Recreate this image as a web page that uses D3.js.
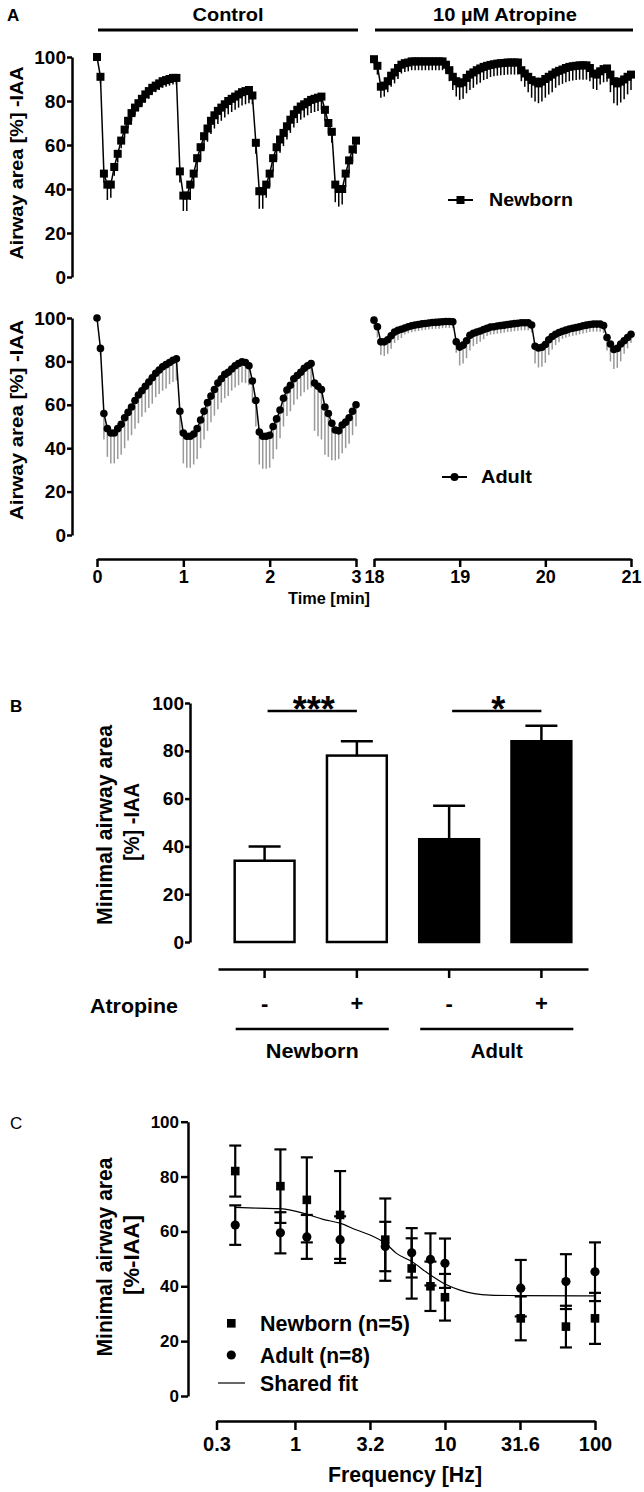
<!DOCTYPE html>
<html><head><meta charset="utf-8">
<script src="https://cdn.jsdelivr.net/npm/d3@7"></script>
<style>
html,body{margin:0;padding:0;background:#fff;}
svg{display:block;}
</style></head><body>
<svg id="chart" width="644" height="1492"></svg>
<script>
// ---------------- DATA ----------------
// Panel A: time points (min)
const ctrlTimes = [0,0.04,0.08,0.12,0.16,0.2,0.24,0.28,0.32,0.36,0.4,0.44,0.48,0.52,0.56,0.6,0.64,0.68,0.72,0.76,0.8,0.84,0.88,0.92,0.96,1,1.04,1.08,1.12,1.16,1.2,1.24,1.28,1.32,1.36,1.4,1.44,1.48,1.52,1.56,1.6,1.64,1.68,1.72,1.76,1.8,1.84,1.88,1.92,1.96,2,2.04,2.08,2.12,2.16,2.2,2.24,2.28,2.32,2.36,2.4,2.44,2.48,2.52,2.56,2.6,2.64,2.68,2.72,2.76,2.8,2.84,2.88,2.92,2.96,3];
const atrTimes = [18,18.04,18.08,18.12,18.16,18.2,18.24,18.28,18.32,18.36,18.4,18.44,18.48,18.52,18.56,18.6,18.64,18.68,18.72,18.76,18.8,18.84,18.88,18.92,18.96,19,19.04,19.08,19.12,19.16,19.2,19.24,19.28,19.32,19.36,19.4,19.44,19.48,19.52,19.56,19.6,19.64,19.68,19.72,19.76,19.8,19.84,19.88,19.92,19.96,20,20.04,20.08,20.12,20.16,20.2,20.24,20.28,20.32,20.36,20.4,20.44,20.48,20.52,20.56,20.6,20.64,20.68,20.72,20.76,20.8,20.84,20.88,20.92,20.96,21];
// Newborn control (mean, lower SEM)
const nbCtrl = [100,91,47,42,42,50,56,62,67,71, 74.5,77,79,81,83,84.5,86,87,88,89, 89.5,90,90.5,90.5, 48,37,37,42,47,54,59,64,67.5,71, 73.5,75.5,77,78.5,80,81,82,83,84,84.5, 85,82.5, 61,39,39,42,47,54,59,62.5,65.5,68.5, 71.5,74,76,77.5,78.5,79.5,80.5,81,81.5,82, 76,70,66,42,40,40,47,53,58,62];
const nbCtrlErr = [0,3,4,7,6,4,4,3.5,3.5,3.5, 3.5,3.5,3.5,3.5,3.5,3.5,3,3,3,3, 3,3,3,3, 5,7,7,7,6,6,6,6,6,6, 6,6,6,6,6,6,6,6,6,6, 6,4, 5,8,8,6,6,6,6,6,6,6, 6,6,6,6,6,6,6,6,6,6, 5,5,5,8,8,7,6,6,6,6];
// Adult control
const adCtrl = [100,86,56,49,47,47,49,51,54,56.5, 59,62,64.5,66.5,68.5,70.5,72.5,74.5,76,77.5, 78.5,79.5,80.5,81.2, 57,47,45.5,45.5,46.5,49, 53,57,61,64,67,70,72,74,75,76.5, 78,79,79.8,79.5,78,71, 62,47.5,45.5,45.5,46,50,53.5,57.6,63,66.8, 69,72,73.5,75,76.8,78,79,70,68.5,67, 59,56,51.5,48.4,48,50.7,52,54,57,60];
const adCtrlErr = [0,3,12,13,14,14,14,14,14,13, 13,13,13,12,12,12,12,11,11,11, 11,10,10,10, 10,14,14.5,14.5,14,14, 13,13,13,12,12,12,11,11,11,10, 10,10,9.5,9.5,9,10, 12,15,15,15,15,15,14,13,13,12, 12,12,11,11,11,11,11,22,23,23, 22,20,17,14,13,13,12,12,11,10];
// Newborn atropine
const nbAtr = [99,96,86.5,87,89,91.5,93,95,96.5,97.2, 97.5,98,98,98,98,98,98,98,98,98, 98,96.5,94,91,89,88,88.5,90.5,92,93, 94,94.8,95.5,96,96.4,96.7,97,97.2,97.3,97.5, 97.5,97.5,97.5,94,92.5,91,89.5,88.8,88,88.8, 90,91,92,93,93.7,94.3,95,95.5,95.8,96, 96.2,96.2,96.2,95,92.5,92,93.5,94.5,94.8,92, 89,88,88.8,89.8,91,92];
const nbAtrErr = [2,4,5,5,5,5,5,5,4,4, 4,4,4,4,4,4,4,4,4,4, 4,4,5,6,7,7.5,7.5,7,7,7, 6.5,6.5,6,6,5.5,5.5,5.5,5.5,5.5,5.5, 5.5,5.5,5.5,5,6,7,8,9,9,9, 8.5,8,8,7,6.5,6.5,6.5,6.5,6.5,6.5, 6.5,6.5,6.5,6,7,7,6,6,6,8, 10,10,9.5,9,8,7];
// Adult atropine
const adAtr = [99,96,89,89,90,91.8,93.5,94.3,94.8,95.4, 96,96.4,96.8,97,97.3,97.5,97.7,97.9,98,98.1, 98.3,98.4,98.4,98.3,89,86.6,87.5,89.5,92,93, 93.5,94,94.7,95.2,95.8,96,96.3,96.5,96.7,97, 97.2,97.4,97.6,97.8,97.8,97.8,96.8,87,86.2,86.5, 87.8,90,91.5,92.5,93.3,93.9,94.4,94.9,95.3,95.6, 96,96.4,96.7,97,97.2,97.2,97.2,96.5,91,88, 85.5,86,88,89.5,91,92.5];
const adAtrErr = [3,5,6,6.5,6.5,6,5,4.5,4,3, 3,3,3,3,3,3,3,3,3,3, 3,3,3,3,5,8.5,8.5,8,7,6, 5.5,5,4.5,3.5,3.5,3.5,3.5,3.5,3.5,3.5, 3.5,3.5,3.5,3.5,3.5,3.5,3.5,8,9,9, 8.5,7,6,5,4.5,3.5,3.5,3.5,3.5,3.5, 3.5,3.5,3.5,3.5,3.5,3.5,3.5,3.5,6,8, 9,9,8,6,5,4];
const yTicksA = [0,20,40,60,80,100];
const ctrlTicks = [0,1,2,3];
const atrTicks = [18,19,20,21];

// Panel B
const barGroups = ["Newborn","Newborn","Adult","Adult"];
const atropineLabels = ["-","+","-","+"];
const barMeans = [34,78,43,84];
const barSEM = [6,6,14,6.5];
const barFills = ["#fff","#fff","#000","#000"];
const sigLabels = ["***","*"];
const yTicksB = [0,20,40,60,80,100];

// Panel C
const freqHz = [0.4,0.8,1.2,2,4,6,8,10,32,64,100];
const nbMean = [82,76.5,71.5,66,57,46.5,40,36,28.3,25.3,28.3];
const nbErr = [9.3,13.4,15.5,16,15,11,9,8.5,8,7.6,9.3];
const adMean = [62.3,59.5,58,57,54.5,52.2,49.8,48.4,39.3,41.7,45.3];
const adErr = [7.2,7.5,8,8.5,9,9,9.5,9,10.3,10,10.7];
const fitHz = [0.4,0.56,0.8,1.2,1.54,2,2.58,3.17,4,4.75,6,8,10,12.6,19.9,31.6,100];
const fitY = [68.8,68.5,68.3,66.3,64.4,63,60.5,58.7,55.7,52,49,44.1,40.8,38.6,36.8,36.6,36.5];
const freqTickValues = [0.3,1,3.162,10,31.62,100];
const freqTickLabels = ["0.3","1","3.2","10","31.6","100"];
const yTicksC = [0,20,40,60,80,100];

// ---------------- DRAWING ----------------
const FONT = '"Liberation Sans", Arial, Helvetica, sans-serif';
const NARROW = '"Liberation Sans Narrow", "Liberation Sans", Arial, sans-serif';
const svg = d3.select("#chart");
svg.append("rect").attr("width",644).attr("height",1492).attr("fill","#fff");

function label(x, y, str, o = {}) {
  const t = svg.append("text").attr("x", x).attr("y", y).text(str)
    .attr("font-family", o.family || FONT)
    .attr("font-size", o.size || 18)
    .attr("font-weight", o.weight || "bold")
    .attr("text-anchor", o.anchor || "start")
    .attr("dominant-baseline", o.baseline || "central")
    .attr("fill", "#000");
  if (o.len) t.attr("textLength", o.len).attr("lengthAdjust", "spacingAndGlyphs");
  if (o.rotate) t.attr("transform", `rotate(-90,${x},${y})`);
  return t;
}
function styleAxis(g, w, size, family) {
  g.attr("font-size", null).attr("font-family", null);
  g.select(".domain").attr("stroke", "#000").attr("stroke-width", w);
  g.selectAll(".tick line").attr("stroke", "#000").attr("stroke-width", w);
  g.selectAll(".tick text").attr("font-size", size).attr("font-weight", "bold")
    .attr("font-family", family || FONT).attr("fill", "#000");
}

// ===== Panel A =====
const xCtrl = d3.scaleLinear().domain([0,3]).range([97,356]);
const xAtr = d3.scaleLinear().domain([18,21]).range([374,631]);
const yTop = d3.scaleLinear().domain([0,100]).range([277,57]);
const yBot = d3.scaleLinear().domain([0,100]).range([535,318]);

label(7, 15, "A", {size: 17});
label(228, 15, "Control", {size: 18, anchor: "middle", len: 71});
label(505, 15, "10 µM Atropine", {size: 18, anchor: "middle", len: 144});
svg.append("line").attr("x1", xCtrl(0)+1).attr("x2", xCtrl(3)+2).attr("y1", 30).attr("y2", 30).attr("stroke", "#000").attr("stroke-width", 3);
svg.append("line").attr("x1", xAtr(18)+1).attr("x2", xAtr(21)+2).attr("y1", 30).attr("y2", 30).attr("stroke", "#000").attr("stroke-width", 3);

[yTop, yBot].forEach(ys => {
  const g = svg.append("g").attr("transform", "translate(72,0)")
    .call(d3.axisLeft(ys).tickValues(yTicksA).tickSize(5).tickSizeOuter(0).tickPadding(1));
  styleAxis(g, 2.5, 19);
});
label(23, 163, "Airway area [%] -IAA", {size: 18, anchor: "middle", baseline: "auto", rotate: true, len: 193});
label(23, 420, "Airway area [%] -IAA", {size: 18, anchor: "middle", baseline: "auto", rotate: true, len: 200});

// x axes (bottom)
const gx1 = svg.append("g").attr("transform", "translate(0,559)")
  .call(d3.axisBottom(xCtrl).tickValues(ctrlTicks).tickSize(8).tickSizeOuter(0).tickPadding(3).tickFormat(d3.format("d")));
styleAxis(gx1, 2.5, 18);
const gx2 = svg.append("g").attr("transform", "translate(0,559)")
  .call(d3.axisBottom(xAtr).tickValues(atrTicks).tickSize(8).tickSizeOuter(0).tickPadding(3).tickFormat(d3.format("d")));
styleAxis(gx2, 2.5, 18);
label(329, 598, "Time [min]", {size: 16, anchor: "middle", len: 82});

function drawTrace(times, vals, errs, xs, ys, shape, errColor) {
  const g = svg.append("g");
  g.selectAll(null).data(vals).join("line")
    .attr("x1", (d, i) => xs(times[i])).attr("x2", (d, i) => xs(times[i]))
    .attr("y1", d => ys(d)).attr("y2", (d, i) => ys(d - errs[i]))
    .attr("stroke", errColor).attr("stroke-width", 1.5);
  const line = d3.line().x((d, i) => xs(times[i])).y(d => ys(d));
  g.append("path").attr("d", line(vals)).attr("fill", "none").attr("stroke", "#000").attr("stroke-width", 1.5);
  if (shape === "square") {
    g.selectAll(null).data(vals).join("rect")
      .attr("x", (d, i) => xs(times[i]) - 4).attr("y", d => ys(d) - 4)
      .attr("width", 8).attr("height", 8).attr("fill", "#000");
  } else {
    g.selectAll(null).data(vals).join("circle")
      .attr("cx", (d, i) => xs(times[i])).attr("cy", d => ys(d))
      .attr("r", 3.8).attr("fill", "#000");
  }
}
drawTrace(ctrlTimes, nbCtrl, nbCtrlErr, xCtrl, yTop, "square", "#000");
drawTrace(atrTimes, nbAtr, nbAtrErr, xAtr, yTop, "square", "#000");
drawTrace(ctrlTimes, adCtrl, adCtrlErr, xCtrl, yBot, "circle", "#999");
drawTrace(atrTimes, adAtr, adAtrErr, xAtr, yBot, "circle", "#999");

// legends A
svg.append("line").attr("x1", 448).attr("x2", 473).attr("y1", 200).attr("y2", 200).attr("stroke", "#000").attr("stroke-width", 2);
svg.append("rect").attr("x", 456.5).attr("y", 196).attr("width", 8).attr("height", 8).attr("fill", "#000");
label(489, 200, "Newborn", {size: 18, len: 84});
svg.append("line").attr("x1", 442).attr("x2", 467).attr("y1", 477).attr("y2", 477).attr("stroke", "#000").attr("stroke-width", 2);
svg.append("circle").attr("cx", 454.5).attr("cy", 477).attr("r", 4).attr("fill", "#000");
label(481, 477, "Adult", {size: 18, len: 51});

// ===== Panel B =====
const barIdx = d3.range(barMeans.length);
const xB = d3.scaleBand().domain(barIdx).range([218, 588]).paddingInner(0.33).paddingOuter(0.17);
const yB = d3.scaleLinear().domain([0,100]).range([942,703]);
label(10, 706, "B", {size: 17});
const gyB = svg.append("g").attr("transform", "translate(190,0)")
  .call(d3.axisLeft(yB).tickValues(yTicksB).tickSize(5).tickSizeOuter(0).tickPadding(1));
styleAxis(gyB, 2.5, 19);
label(112, 825, "Minimal airway area", {size: 22, anchor: "middle", baseline: "auto", rotate: true, len: 200});
label(139, 822, "[%] -IAA", {size: 22, anchor: "middle", baseline: "auto", rotate: true, len: 78});

svg.append("g").selectAll("rect").data(barMeans).join("rect")
  .attr("x", (d, i) => xB(i) + 1).attr("width", xB.bandwidth() - 2)
  .attr("y", d => yB(d)).attr("height", d => yB(0) - yB(d))
  .attr("fill", (d, i) => barFills[i]).attr("stroke", "#000").attr("stroke-width", 2.5);
const capW = 32;
const gErrB = svg.append("g");
barMeans.forEach((m, i) => {
  const cx = xB(i) + xB.bandwidth() / 2;
  gErrB.append("line").attr("x1", cx).attr("x2", cx).attr("y1", yB(m)).attr("y2", yB(m + barSEM[i])).attr("stroke", "#000").attr("stroke-width", 2.5);
  gErrB.append("line").attr("x1", cx - capW / 2).attr("x2", cx + capW / 2).attr("y1", yB(m + barSEM[i])).attr("y2", yB(m + barSEM[i])).attr("stroke", "#000").attr("stroke-width", 2.5);
});
// significance
[[0,1],[2,3]].forEach((pair, k) => {
  const a = xB(pair[0]) + xB.bandwidth() / 2, b = xB(pair[1]) + xB.bandwidth() / 2;
  svg.append("line").attr("x1", a + 3).attr("x2", b).attr("y1", 711).attr("y2", 711).attr("stroke", "#000").attr("stroke-width", 2.5);
  label((a + b) / 2 + 3, 722, sigLabels[k], {size: 36, anchor: "middle", baseline: "auto"});
});
// category axis below
const gxB = svg.append("g").attr("transform", "translate(0,969)")
  .call(d3.axisBottom(xB).tickSize(9).tickSizeOuter(0).tickPadding(17).tickFormat(i => atropineLabels[i]));
styleAxis(gxB, 2.5, 22);
label(90, 1005, "Atropine", {size: 21, len: 88});
const groupNames = Array.from(new Set(barGroups));
groupNames.forEach(gname => {
  const idx = barIdx.filter(i => barGroups[i] === gname);
  const x0 = xB(idx[0]) + 2, x1 = xB(idx[idx.length - 1]) + xB.bandwidth() + 1;
  svg.append("line").attr("x1", x0).attr("x2", x1).attr("y1", 1029).attr("y2", 1029).attr("stroke", "#000").attr("stroke-width", 2.5);
  label((x0 + x1) / 2, 1050, gname, {size: 21, anchor: "middle", len: gname === "Newborn" ? 93 : 52});
});

// ===== Panel C =====
const xC = d3.scaleLog().domain([0.3,100]).range([216.5,595]);
const yC = d3.scaleLinear().domain([0,100]).range([1396,1121.7]);
label(10, 1123, "C", {size: 17, weight: "normal"});
const gyC = svg.append("g").attr("transform", "translate(188,0)")
  .call(d3.axisLeft(yC).tickValues(yTicksC).tickSize(7).tickSizeOuter(0).tickPadding(2));
styleAxis(gyC, 2.5, 17, NARROW);
const gxC = svg.append("g").attr("transform", "translate(0,1421)")
  .call(d3.axisBottom(xC).tickValues(freqTickValues).tickSize(9).tickSizeOuter(0).tickPadding(7)
    .tickFormat((d, i) => freqTickLabels[i]));
styleAxis(gxC, 2.5, 20, NARROW);
label(405, 1474, "Frequency [Hz]", {size: 22, anchor: "middle", family: NARROW, len: 154});
label(112, 1257, "Minimal airway area", {size: 22, anchor: "middle", baseline: "auto", rotate: true, family: NARROW, len: 199});
label(139, 1255, "[%-IAA]", {size: 22, anchor: "middle", baseline: "auto", rotate: true, family: NARROW, len: 80});

function errBars(means, errs) {
  const g = svg.append("g");
  means.forEach((m, i) => {
    const cx = xC(freqHz[i]);
    const yt = yC(m + errs[i]), yb = yC(m - errs[i]);
    g.append("line").attr("x1", cx).attr("x2", cx).attr("y1", yt).attr("y2", yb).attr("stroke", "#000").attr("stroke-width", 2.2);
    [yt, yb].forEach(yy => g.append("line").attr("x1", cx - 6).attr("x2", cx + 6).attr("y1", yy).attr("y2", yy).attr("stroke", "#000").attr("stroke-width", 2.2));
  });
}
errBars(nbMean, nbErr);
errBars(adMean, adErr);
const fitLine = d3.line().x((d, i) => xC(fitHz[i])).y(d => yC(d)).curve(d3.curveMonotoneX);
svg.append("path").attr("d", fitLine(fitY)).attr("fill", "none").attr("stroke", "#000").attr("stroke-width", 1.2);
svg.append("g").selectAll("circle").data(adMean).join("circle")
  .attr("cx", (d, i) => xC(freqHz[i])).attr("cy", d => yC(d)).attr("r", 4.6).attr("fill", "#000");
svg.append("g").selectAll("rect").data(nbMean).join("rect")
  .attr("x", (d, i) => xC(freqHz[i]) - 4.3).attr("y", d => yC(d) - 4.3)
  .attr("width", 8.6).attr("height", 8.6).attr("fill", "#000");

// legend C
svg.append("rect").attr("x", 227).attr("y", 1319).attr("width", 8.6).attr("height", 8.6).attr("fill", "#000");
label(260, 1323, "Newborn (n=5)", {size: 22, family: NARROW, len: 150});
svg.append("circle").attr("cx", 231.3).attr("cy", 1355).attr("r", 4.6).attr("fill", "#000");
label(260, 1355, "Adult (n=8)", {size: 22, family: NARROW, len: 110});
svg.append("line").attr("x1", 218).attr("x2", 245).attr("y1", 1383).attr("y2", 1383).attr("stroke", "#000").attr("stroke-width", 1.2);
label(260, 1383, "Shared fit", {size: 22, family: NARROW, len: 98});
</script>
</body></html>
